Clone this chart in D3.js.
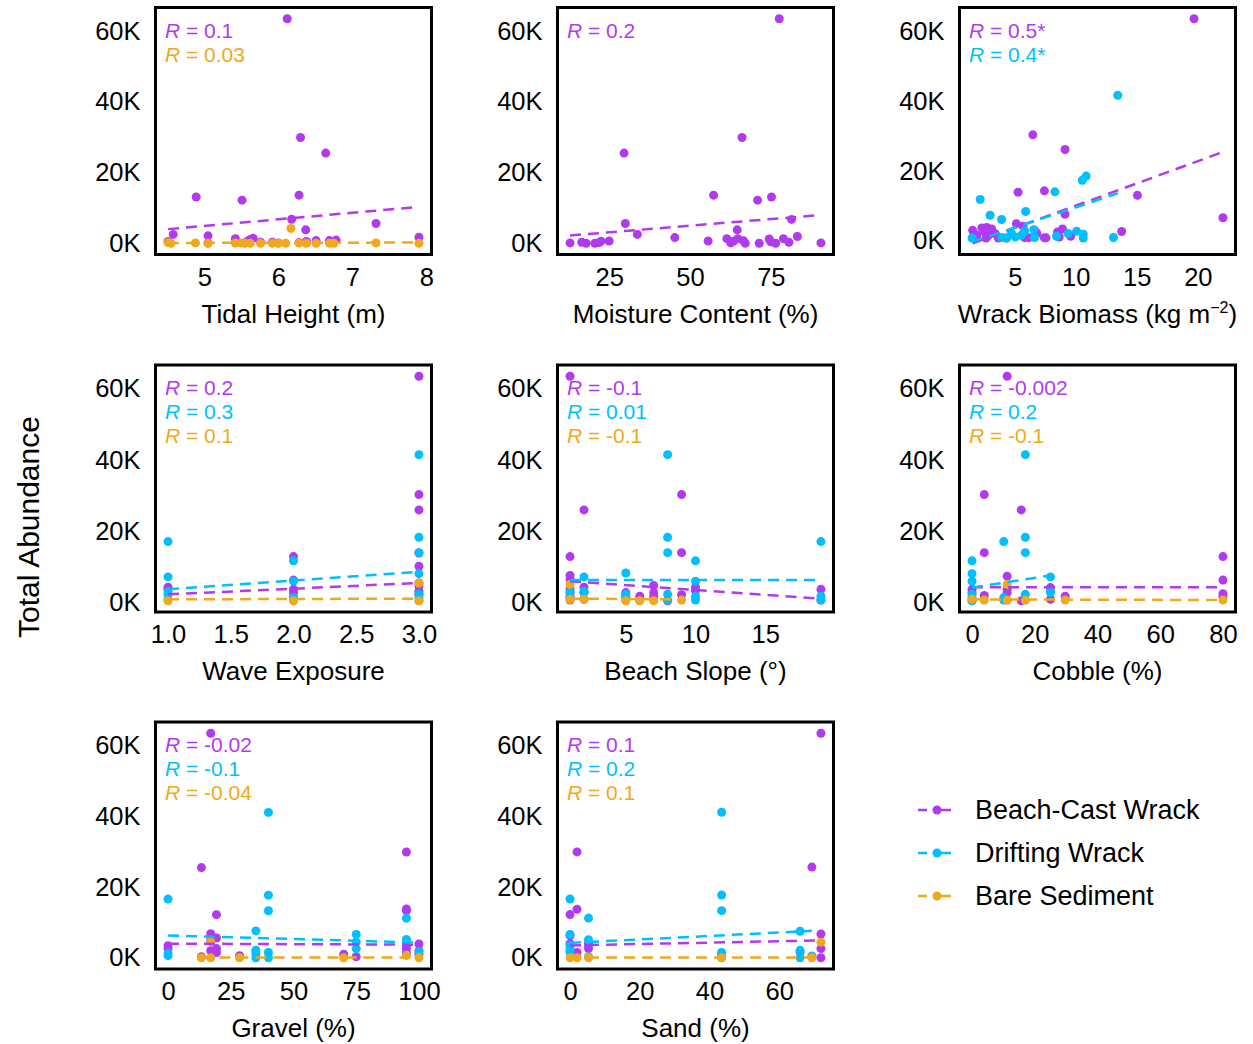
<!DOCTYPE html>
<html>
<head>
<meta charset="utf-8">
<script src="https://cdn.jsdelivr.net/npm/d3@7"></script>
<style>
  body { margin: 0; background: #fff; }
  svg { display: block; }
  text { font-family: Arial, "Liberation Sans", sans-serif; }
</style>
</head>
<body>
<svg id="chart" width="1253" height="1044"></svg>
<script>
// ---- Series -------------------------------------------------------------
const seriesNames = ["Beach-Cast Wrack", "Drifting Wrack", "Bare Sediment"];
const seriesColors = ["#B23AEE", "#00BFFF", "#F1A81D"];

// Shared y axis (thousands of individuals)
const yTickValues = [0, 20, 40, 60];

// ---- Tidal Height (m) ---------------------------------------------------
const tidalTicks = [5, 6, 7, 8];
const tidalBeach = [[6.12,63.5],[6.30,29.9],[6.64,25.5],[4.89,13.1],[5.51,12.2],[6.28,13.6],[6.18,6.8],
  [7.32,5.6],[6.37,3.8],[4.58,2.5],[5.05,2.1],[5.42,1.3],[5.66,1.4],[5.62,1.1],[5.58,0.5],[5.76,0.3],
  [5.92,0.3],[6.00,0.1],[6.38,0.5],[6.51,0.75],[6.69,0.75],[6.78,0.9],[4.51,0.5],[7.90,1.7],[5.05,0.1],[6.28,0.2]];
const tidalBare = [[4.51,0.2],[4.55,0],[4.88,0.1],[5.05,0],[5.42,0.05],[5.50,0.05],[5.55,0],[5.62,0],
  [5.76,0],[5.92,0],[6.00,0],[6.10,0],[6.17,4.2],[6.28,0.05],[6.38,0],[6.51,0],[6.69,0],[6.75,0],[7.32,0.1],[7.90,0]];
const tidalFitBeach = [[4.51,4.0],[7.90,10.3]];
const tidalFitBare = [[4.51,0.1],[7.90,0.2]];
const tidalR = ["0.1", null, "0.03"];

// ---- Moisture Content (%) -----------------------------------------------
const moistTicks = [25, 50, 75];
const moistBeach = [[77.6,63.5],[66.1,29.9],[29.6,25.5],[57.3,13.6],[75.2,13.1],[70.9,12.2],[81.4,6.75],
  [30.0,5.6],[64.6,3.8],[33.7,2.5],[45.3,1.6],[83.2,1.9],[12.9,0.1],[16.5,0.3],[17.9,0],[20.6,0],
  [21.9,0.2],[25.0,0.65],[55.6,0.65],[61.4,1.3],[62.6,0.1],[64.8,1.3],[66.5,0.7],[67.1,0],[71.4,0],
  [74.5,1.2],[76.5,0],[75.0,0.4],[78.9,1.3],[80.6,0.3],[90.5,0.1],[63.5,0.6],[22.5,0.6]];
const moistFitBeach = [[12.9,2.2],[90.5,8.0]];
const moistR = ["0.2", null, null];

// ---- Wrack Biomass (kg m^-2) --------------------------------------------
const wrackTicks = [5, 10, 15, 20];
const wrackBeach = [[19.69,63.5],[6.48,30.3],[9.12,26.1],[5.27,13.9],[7.43,14.3],[15.05,13.0],[9.12,7.6],
  [22.06,6.6],[13.76,2.65],[8.91,3.4],[1.55,3.0],[2.30,3.7],[2.71,3.8],[3.11,3.4],[2.52,2.6],[2.84,1.6],
  [2.65,0.8],[3.65,0.8],[4.33,0.8],[5.13,4.9],[5.67,4.2],[5.81,0.9],[6.16,0.9],[6.67,2.8],[6.81,2.1],
  [7.43,0.85],[7.56,0.85],[8.50,2.5],[8.64,1.1],[9.58,1.3],[1.90,1.6],[3.38,2.1]];
const wrackDrift = [[13.44,41.6],[10.85,18.5],[10.53,17.3],[2.17,11.8],[8.29,14.0],[5.89,8.4],[2.98,7.3],
  [3.92,6.1],[5.81,2.8],[6.56,3.2],[9.37,2.1],[10.07,2.75],[10.61,1.9],[10.61,0.8],[8.42,1.3],[13.09,0.95],
  [1.50,0.8],[3.92,0.95],[4.33,0.8],[5.05,1.1],[6.62,0.95],[4.73,2.1],[5.54,1.6]];
const wrackFitBeach = [[1.55,-0.7],[22.06,25.4]];
const wrackFitDrift = [[1.50,-0.3],[13.44,13.6]];
const wrackR = ["0.5*", "0.4*", null];

// ---- Wave Exposure -------------------------------------------------------
const waveTicks = [1.0, 1.5, 2.0, 2.5, 3.0];
const waveBeach = [[1,4.3],[1,3.7],[2,12.9],[2,6.3],[2,3.7],[2,2.8],[2,1.4],
  [3,63.5],[3,30.3],[3,26.0],[3,13.9],[3,10.2],[3,5.5],[3,4.6],[3,3.2],[3,2.3]];
const waveDrift = [[1,17.1],[1,7.2],[1,3.0],[1,2.3],[1,0.9],[2,11.7],[2,6.0],[2,1.4],[2,0.7],
  [3,41.5],[3,18.3],[3,14.0],[3,8.1],[3,2.3],[3,1.4],[3,0.5]];
const waveBare = [[1,0.5],[2,0.5],[3,5.4],[3,0.5]];
const waveFitBeach = [[1,2.3],[3,5.5]];
const waveFitDrift = [[1,3.7],[3,8.6]];
const waveFitBare = [[1,0.9],[3,1.1]];
const waveR = ["0.2", "0.3", "0.1"];

// ---- Beach Slope (°) -----------------------------------------------------
const slopeTicks = [5, 10, 15];
const slopeBeach = [[1,63.5],[1,12.9],[1,7.6],[1,6.5],[1,3.7],[1,2.8],[1,1.8],[1,0.7],
  [2,26.0],[2,4.3],[2,2.8],[2,0.9],[5,2.8],[5,1.7],[6,1.8],[6,0.7],[7,4.8],[7,2.8],[7,1.7],[8,0.5],
  [9,30.3],[9,14.0],[9,2.2],[10,4.3],[10,3.4],[19,3.7],[19,0.7]];
const slopeDrift = [[1,3.0],[1,1.5],[2,7.2],[2,3.2],[2,2.8],[5,8.3],[5,2.3],[5,1.4],[5,0.7],
  [8,41.5],[8,18.3],[8,14.0],[8,2.3],[8,0.7],[10,11.7],[10,6.0],[10,1.7],[10,0.7],[19,17.1],[19,1.8],[19,0.7]];
const slopeBare = [[1,5.1],[1,0.9],[2,0.9],[5,0.5],[6,0.5],[7,0.5],[9,0.7]];
const slopeFitBeach = [[1,6.0],[19,1.1]];
const slopeFitDrift = [[1,6.3],[19,6.3]];
const slopeFitBare = [[1,1.1],[9,0.9]];
const slopeR = ["-0.1", "0.01", "-0.1"];

// ---- Cobble (%) ----------------------------------------------------------
const cobbleTicks = [0, 20, 40, 60, 80];
const cobbleBeach = [[11.2,63.5],[3.9,30.3],[15.7,26.0],[3.9,14.0],[80,12.9],[11.2,7.4],[80,6.3],[0,3.7],
  [0,2.8],[3.9,2.0],[11.2,3.7],[11.2,2.8],[11.2,0.7],[15.7,0.5],[25,4.2],[25,0.9],[29.7,1.8],[80,2.5],[80,1.7],[0,0.5]];
const cobbleDrift = [[17,41.5],[17,18.3],[17,14.0],[10.1,17.1],[0,11.7],[0,8.1],[0,6.0],[0,2.3],[0,1.4],
  [10.1,1.4],[10.1,0.7],[17,2.3],[17,0.7],[25,7.2],[25,3.2],[25,2.8],[0,0.5]];
const cobbleBare = [[11.2,5.1],[0,0.9],[3.9,0.7],[11.2,0.7],[17,0.7],[29.7,0.7],[80,0.7]];
const cobbleFitBeach = [[0,4.3],[80,4.3]];
const cobbleFitDrift = [[0,4.2],[25,7.6]];
const cobbleFitBare = [[0,0.9],[80,0.7]];
const cobbleR = ["-0.002", "0.2", "-0.1"];

// ---- Gravel (%) ----------------------------------------------------------
const gravelTicks = [0, 25, 50, 75, 100];
const gravelBeach = [[17,63.5],[13.3,25.5],[95,29.9],[19.3,12.2],[95,13.8],[95,13.3],[17,6.8],[19.3,5.6],
  [17,5.0],[0,3.4],[0,2.6],[19.3,2.6],[19.3,1.5],[13.3,0.3],[28.5,0.6],[70,1.0],[75,0.3],[95,3.5],
  [95,2.6],[95,1.5],[100,3.9],[100,2.0],[100,1.0],[17,2.0]];
const gravelDrift = [[40,41.1],[40,17.7],[40,13.3],[0,16.6],[35,7.6],[75,6.6],[95,11.2],[95,5.2],[0,1.2],
  [0,0.6],[35,2.1],[35,1.2],[35,0],[40,1.5],[40,0],[75,4.5],[75,2.6],[95,0.8],[100,1.7]];
const gravelBare = [[17,4.5],[13.3,0],[17,0],[28.5,0],[70,0],[100,0],[95,0.7]];
const gravelFitBeach = [[0,4.0],[100,3.7]];
const gravelFitDrift = [[0,6.3],[100,4.3]];
const gravelFitBare = [[13.3,0.1],[100,0.1]];
const gravelR = ["-0.02", "-0.1", "-0.04"];

// ---- Sand (%) ------------------------------------------------------------
const sandTicks = [0, 20, 40, 60];
const sandBeach = [[72,63.4],[2,29.9],[69.4,25.6],[2,13.7],[0,12.2],[0,6.3],[0,4.0],[5.3,3.5],[5.3,2.6],
  [5.3,4.2],[2,1.5],[0,2.0],[72,6.7],[72,2.6],[69.4,0.3],[72,0],[66,1.6],[43.5,0.6]];
const sandDrift = [[43.5,41.1],[43.5,17.7],[43.5,13.3],[0,16.6],[5.3,11.2],[0,6.6],[5.3,5.1],[0,3.5],
  [0,2.6],[0,1.5],[5.3,0.3],[43.5,1.5],[43.5,0],[66,7.5],[66,2.1],[66,0],[69.4,0.5]];
const sandBare = [[0,0],[2,0],[5.3,0],[43.5,0],[69.4,0],[72,4.4]];
const sandFitBeach = [[0,3.5],[72,4.9]];
const sandFitDrift = [[0,4.2],[69.4,7.6]];
const sandFitBare = [[0,0.1],[72,0.1]];
const sandR = ["0.1", "0.2", "0.1"];

// ---- Panel definitions -----------------------------------------------------
const panels = [
  { title: ["Tidal Height (m)"], ticks: tidalTicks, fmt: d3.format("d"),
    pts: [tidalBeach, null, tidalBare], fits: [tidalFitBeach, null, tidalFitBare], r: tidalR },
  { title: ["Moisture Content (%)"], ticks: moistTicks, fmt: d3.format("d"),
    pts: [moistBeach, null, null], fits: [moistFitBeach, null, null], r: moistR },
  { title: ["Wrack Biomass (kg m", "\u22122", ")"], ticks: wrackTicks, fmt: d3.format("d"),
    pts: [wrackBeach, wrackDrift, null], fits: [wrackFitBeach, wrackFitDrift, null], r: wrackR },
  { title: ["Wave Exposure"], ticks: waveTicks, fmt: d3.format(".1f"),
    pts: [waveBeach, waveDrift, waveBare], fits: [waveFitBeach, waveFitDrift, waveFitBare], r: waveR },
  { title: ["Beach Slope (\u00B0)"], ticks: slopeTicks, fmt: d3.format("d"),
    pts: [slopeBeach, slopeDrift, slopeBare], fits: [slopeFitBeach, slopeFitDrift, slopeFitBare], r: slopeR },
  { title: ["Cobble (%)"], ticks: cobbleTicks, fmt: d3.format("d"),
    pts: [cobbleBeach, cobbleDrift, cobbleBare], fits: [cobbleFitBeach, cobbleFitDrift, cobbleFitBare], r: cobbleR },
  { title: ["Gravel (%)"], ticks: gravelTicks, fmt: d3.format("d"),
    pts: [gravelBeach, gravelDrift, gravelBare], fits: [gravelFitBeach, gravelFitDrift, gravelFitBare], r: gravelR },
  { title: ["Sand (%)"], ticks: sandTicks, fmt: d3.format("d"),
    pts: [sandBeach, sandDrift, sandBare], fits: [sandFitBeach, sandFitDrift, sandFitBare], r: sandR }
];

// ---- Layout ----------------------------------------------------------------
const svg = d3.select("#chart");
const colLeft = [155.5, 557.5, 959.5];
const rowTop = [7.5, 365, 722];
const panelW = 276;
const panelH = 247;

// domain covering all values, expanded 5% each side
function padded(values) {
  const [lo, hi] = d3.extent(values);
  const p = (hi - lo) * 0.05;
  return [lo - p, hi + p];
}

panels.forEach((p, i) => {
  const left = colLeft[i % 3];
  const top = rowTop[Math.floor(i / 3)];
  const g = svg.append("g");

  const allPts = [];
  p.pts.forEach(s => { if (s) allPts.push(...s); });
  p.fits.forEach(s => { if (s) allPts.push(...s); });

  const x = d3.scaleLinear().domain(padded(allPts.map(d => d[0]))).range([left, left + panelW]);
  const y = d3.scaleLinear().domain(padded(allPts.map(d => d[1]))).range([top + panelH, top]);

  // axes
  const xAxis = g.append("g")
    .attr("transform", `translate(0,${top + panelH})`)
    .call(d3.axisBottom(x).tickValues(p.ticks).tickFormat(p.fmt).tickSize(0).tickPadding(13));
  const yAxis = g.append("g")
    .attr("transform", `translate(${left},0)`)
    .call(d3.axisLeft(y).tickValues(yTickValues).tickFormat(d => d + "K").tickSize(0).tickPadding(15));
  [xAxis, yAxis].forEach(a => {
    a.select(".domain").remove();
    a.selectAll("text").attr("font-size", 25.5).attr("fill", "#000")
      .style("font-family", "Arial, 'Liberation Sans', sans-serif");
  });

  // points
  p.pts.forEach((s, k) => {
    if (!s) return;
    g.append("g").selectAll("circle").data(s).join("circle")
      .attr("cx", d => x(d[0])).attr("cy", d => y(d[1])).attr("r", 4.5)
      .attr("fill", seriesColors[k]);
  });

  // fitted trend lines
  const line = d3.line().x(d => x(d[0])).y(d => y(d[1]));
  p.fits.forEach((s, k) => {
    if (!s) return;
    g.append("path").datum(s).attr("d", line)
      .attr("fill", "none").attr("stroke", seriesColors[k])
      .attr("stroke-width", 2.5).attr("stroke-dasharray", "11,7");
  });

  // panel border
  g.append("rect").attr("x", left).attr("y", top).attr("width", panelW).attr("height", panelH)
    .attr("fill", "none").attr("stroke", "#000").attr("stroke-width", 3);

  // correlation labels
  let line_i = 0;
  p.r.forEach((r, k) => {
    if (r === null) return;
    const t = g.append("text")
      .attr("x", left + 9.5).attr("y", top + 30 + 24 * line_i)
      .attr("font-size", 21).attr("fill", seriesColors[k]);
    t.append("tspan").attr("font-style", "italic").text("R");
    t.append("tspan").text(" = " + r);
    line_i++;
  });

  // x axis title
  const tt = g.append("text")
    .attr("x", left + panelW / 2).attr("y", top + panelH + 68)
    .attr("text-anchor", "middle").attr("font-size", 26).attr("fill", "#000");
  tt.append("tspan").text(p.title[0]);
  if (p.title.length > 1) {
    tt.append("tspan").attr("font-size", 16).attr("dy", -10).text(p.title[1]);
    tt.append("tspan").attr("dy", 10).text(p.title[2]);
  }
});

// y axis title
svg.append("text")
  .attr("transform", "translate(39,527) rotate(-90)")
  .attr("text-anchor", "middle").attr("font-size", 30).attr("fill", "#000")
  .text("Total Abundance");

// legend
const legend = svg.append("g");
seriesNames.forEach((name, k) => {
  const cy = 810 + 43 * k;
  legend.append("line").attr("x1", 918).attr("x2", 951).attr("y1", cy).attr("y2", cy)
    .attr("stroke", seriesColors[k]).attr("stroke-width", 2.5).attr("stroke-dasharray", "9,6,18");
  legend.append("circle").attr("cx", 937).attr("cy", cy).attr("r", 4.5).attr("fill", seriesColors[k]);
  legend.append("text").attr("x", 975).attr("y", cy).attr("dy", "0.35em")
    .attr("font-size", 27).attr("fill", "#000").text(name);
});
</script>
</body>
</html>
